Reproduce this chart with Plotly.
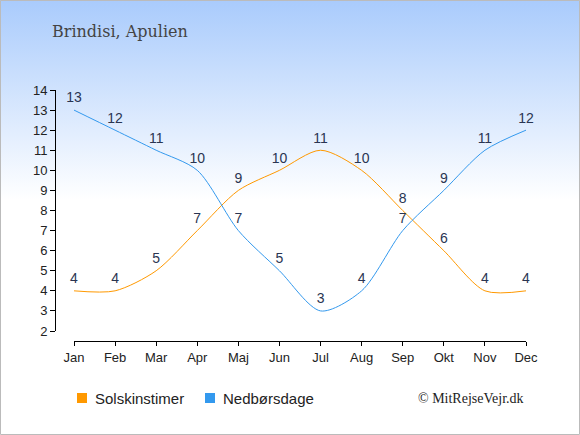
import base64

import plotly.graph_objects as go

months = ["Jan", "Feb", "Mar", "Apr", "Maj", "Jun", "Jul", "Aug", "Sep", "Okt", "Nov", "Dec"]
sun_hours = [4, 4, 5, 7, 9, 10, 11, 10, 8, 6, 4, 4]
rain_days = [13, 12, 11, 10, 7, 5, 3, 4, 7, 9, 11, 12]
y_ticks = list(range(2, 15))

ORANGE = "#ff9900"
BLUE = "#3399ee"
W, H = 580, 435
L, R, T, B = 55, 54, 90, 94
PW, PH = W - L - R, H - T - B


def px(x):
    return (x - L) / PW


def py(y):
    return (H - B - y) / PH


svg = (
    '<svg xmlns="http://www.w3.org/2000/svg" width="580" height="435" preserveAspectRatio="none">'
    '<defs><linearGradient id="g" x1="0" y1="0" x2="0" y2="1">'
    '<stop offset="0" stop-color="#a9cbfc"/><stop offset="0.46" stop-color="#ffffff"/>'
    '<stop offset="1" stop-color="#ffffff"/></linearGradient></defs>'
    '<rect width="580" height="435" fill="url(#g)"/></svg>'
)
bg_src = "data:image/svg+xml;base64," + base64.b64encode(svg.encode()).decode()

fig = go.Figure()
label_font = dict(family="Liberation Sans, Arial, sans-serif", size=14, color="#2a3552")
for vals, col in [(sun_hours, ORANGE), (rain_days, BLUE)]:
    fig.add_scatter(
        x=months, y=vals, mode="lines+markers+text", text=[str(v) for v in vals],
        textposition="top center", textfont=label_font, cliponaxis=False,
        marker=dict(size=5, opacity=0),
        line=dict(color=col, width=1, shape="spline", smoothing=0.8),
        showlegend=False, hoverinfo="skip",
    )

tick_font = dict(family="Liberation Sans, Arial, sans-serif", size=13, color="#222222")
legend_font = dict(family="Liberation Sans, Arial, sans-serif", size=15, color="#222222")

shapes = [dict(
    type="rect", xref="paper", yref="paper",
    x0=px(0.5), x1=px(W - 0.5), y0=py(H - 0.5), y1=py(0.5),
    line=dict(color="#bbbbbb", width=1),
)]
annotations = [
    dict(
        text="Brindisi, Apulien", xref="paper", yref="paper",
        x=px(50), y=py(32), xanchor="left", yanchor="middle", showarrow=False,
        font=dict(family="DejaVu Serif, Liberation Serif, serif", size=16, color="#444444"),
    ),
    dict(
        text="© MitRejseVejr.dk", xref="paper", yref="paper",
        x=px(526), y=py(398), xanchor="right", yanchor="middle", showarrow=False,
        font=dict(family="Liberation Serif, serif", size=14, color="#222222"),
    ),
]
for name, col, lx in [("Solskinstimer", ORANGE, 77), ("Nedbørsdage", BLUE, 205)]:
    shapes.append(dict(
        type="rect", xref="paper", yref="paper",
        x0=px(lx), x1=px(lx + 10), y0=py(403), y1=py(393),
        fillcolor=col, line=dict(width=0),
    ))
    annotations.append(dict(
        text=name, xref="paper", yref="paper", x=px(lx + 16), y=py(398),
        xanchor="left", yanchor="middle", showarrow=False, font=legend_font,
    ))

fig.update_layout(
    width=W, height=H,
    margin=dict(l=L, r=R, t=T, b=B),
    paper_bgcolor="white",
    plot_bgcolor="rgba(0,0,0,0)",
    showlegend=False,
    xaxis=dict(
        domain=[px(74), 1], range=[0, 11], anchor="free", position=0,
        showgrid=False, zeroline=False, showline=True, linecolor="black", linewidth=1,
        ticks="outside", ticklen=4, tickcolor="black", tickfont=tick_font,
        fixedrange=True,
    ),
    yaxis=dict(
        domain=[py(331), 1], range=[2, 14], anchor="free", position=0,
        tickvals=y_ticks, showgrid=False, zeroline=False,
        showline=True, linecolor="black", linewidth=1,
        ticks="outside", ticklen=5, tickcolor="black", tickfont=tick_font,
        fixedrange=True,
    ),
    images=[dict(
        source=bg_src, xref="paper", yref="paper",
        x=px(0), y=py(0), sizex=W / PW, sizey=H / PH,
        sizing="stretch", layer="below", xanchor="left", yanchor="top",
    )],
    shapes=shapes,
    annotations=annotations,
)

fig.write_html(
    "out.html",
    config={"displayModeBar": False},
    post_script="document.body.style.margin='0';",
)
